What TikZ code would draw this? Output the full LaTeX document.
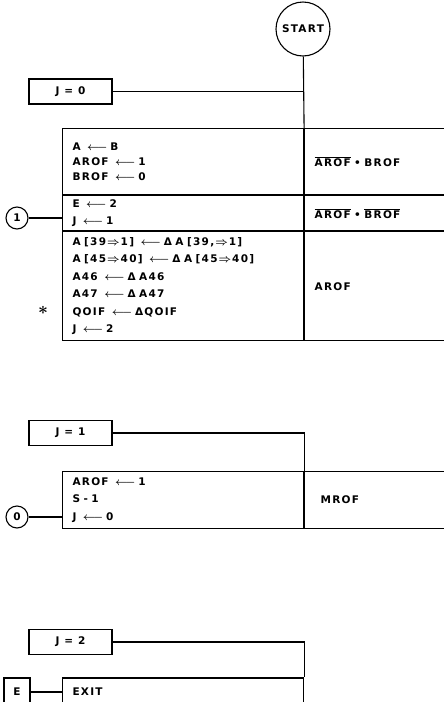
\documentclass[tikz,border=0pt]{standalone}
\usepackage{amsmath}
\usepackage{fontspec}
\setmainfont{DejaVu Sans}[LetterSpace=12]
\usepackage{tikz}
\usetikzlibrary{positioning}
\newcommand{\getsto}{\hspace{3pt}$\boldsymbol{\longleftarrow}$\hspace{3pt}}
\newcommand{\thru}{\hspace{1pt}$\boldsymbol{\Rightarrow}$\hspace{1pt}}
\newcommand{\negof}[1]{$\overline{\hbox{#1}}$}

\begin{document}
\begin{tikzpicture}[x=1pt, y=-1pt, line width=1.1pt,
every node/.style={font=\bfseries\fontsize{10.5}{17.5}\selectfont},
cell/.style={draw, anchor=north west, align=left, inner xsep=10pt, inner ysep=0pt},
lcell/.style={cell, text width=221pt, minimum width=241pt},
rcell/.style={cell, text width=120pt, minimum width=140pt},
cond/.style={draw, minimum width=83pt, minimum height=25pt},
conn/.style={draw, circle, minimum size=22pt, inner sep=0pt}
]
\useasboundingbox (0,0) rectangle (444,702);
\clip (0,0) rectangle (444,702);
%Nodes
\node[conn, minimum size=54pt] (start) at (303,29)  {START};
\node[cond]                    (j0)    at (70.5,91.5) {J = 0};
\node[lcell, minimum height=66pt]  (a1) at (62,128)        {A \getsto B\\[-2.5pt]AROF \getsto 1\\[-2.5pt]BROF \getsto 0\\[-1pt]};
\node[rcell, minimum height=66pt]  (b1) at (a1.north east) {\negof{AROF} • BROF};
\node[lcell, minimum height=35pt]  (a2) at (a1.south west) {E \getsto 2\\J \getsto 1};
\node[rcell, minimum height=35pt]  (b2) at (a2.north east) {\negof{AROF} • \negof{BROF}};
\node[lcell, minimum height=109pt] (a3) at (a2.south west) {A [39\thru1] \getsto Δ A [39,\thru1]\\A [45\thru40] \getsto Δ A [45\thru40]\\A46 \getsto Δ A46\\A47 \getsto Δ A47\\QOIF \getsto ΔQOIF\\J \getsto 2};
\node[rcell, minimum height=109pt] (b3) at (a3.north east) {AROF};
\node[conn]                    (c1)    at (17,218)   {1};
\node                          (star)  at (43,310)   {\fontsize{16}{16}\selectfont$\boldsymbol{\ast}$};

\node[cond]                        (j1) at (70.5,433)      {J = 1};
\node[lcell, minimum height=57pt]  (a4) at (62,471)        {AROF \getsto 1\\S - 1\\J \getsto 0};
\node[rcell, minimum height=57pt, inner xsep=16pt, text width=108pt] (b4) at (a4.north east) {MROF};
\node[conn]                        (c0) at (17,517)        {0};

\node[cond]                                       (j2)   at (70.5,642) {J = 2};
\node[lcell, anchor=west, minimum height=28pt]    (exit) at (62,692)   {EXIT};
\node[draw, minimum width=26pt, minimum height=28pt] (e)  at (17,692)   {E};
%Lines
\draw (start) -- (a1.north east);
\draw (j0) -- (j0 -| start);
\draw (c1) -- (c1 -| a2.west);
\draw (j1) -| (a4.north east);
\draw (c0) -- (c0 -| a4.west);
\draw (j2) -| (exit.north east);
\draw (e) -- (e -| exit.west);
\end{tikzpicture}
\end{document}
